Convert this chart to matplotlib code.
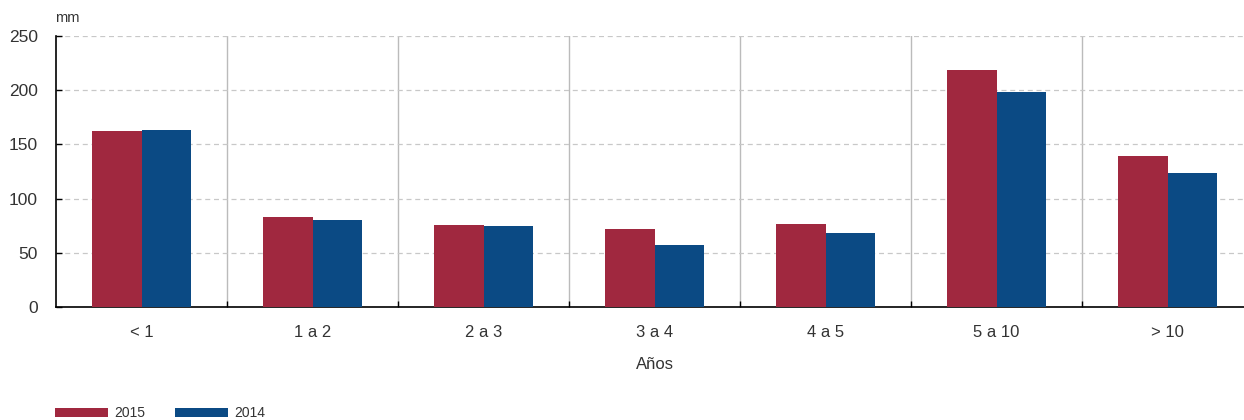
import numpy as np
import matplotlib
matplotlib.use("Agg")
import matplotlib.pyplot as plt

categorias = ["< 1", "1 a 2", "2 a 3", "3 a 4", "4 a 5", "5 a 10", "> 10"]
v2015 = [162.5, 83, 76, 72, 77, 218.5, 139.5]
v2014 = [163.5, 80, 74.5, 57, 68.5, 198.5, 123.5]
anios = ["2015", "2014"]
colores = ["#A0283F", "#0B4A84"]

plt.rcParams['font.family'] = ['Liberation Sans', 'DejaVu Sans']
gris = "#333333"

fig = plt.figure(figsize=(12.44, 4.2), dpi=100)
ax = fig.add_axes([56 / 1244, 1 - 307 / 420, (1253 - 56) / 1244, 271 / 420])

x = np.arange(len(categorias))
w = 0.287
ax.bar(x - w / 2, v2015, w, color=colores[0], label=anios[0], zorder=3)
ax.bar(x + w / 2, v2014, w, color=colores[1], label=anios[1], zorder=3)

ax.set_xlim(-0.5, len(categorias) - 0.5)
ax.set_ylim(0, 250)
ax.set_yticks(np.arange(0, 251, 50))
ax.yaxis.grid(True, linestyle=(0, (4, 3)), color="#c8c8c8", linewidth=0.9, zorder=0)
for b in np.arange(0.5, len(categorias) - 0.5, 1):
    ax.axvline(b, color="#bbbbbb", linewidth=1, zorder=1)

ax.set_xticks(x)
ax.set_xticklabels(categorias)
ax.tick_params(axis='x', length=0, pad=13, labelsize=12, labelcolor=gris)
ax.tick_params(axis='y', direction='in', length=4, width=1, pad=13, labelsize=12.5, labelcolor=gris)
ax.set_xticks(np.arange(0.5, len(categorias) - 0.5, 1), minor=True)
ax.tick_params(axis='x', which='minor', direction='in', length=4, width=1)

for s in ['top', 'right']:
    ax.spines[s].set_visible(False)
for s in ['left', 'bottom']:
    ax.spines[s].set_color("black")
    ax.spines[s].set_linewidth(1.2)

ax.set_xlabel("Años", fontsize=12, color=gris, labelpad=12)
fig.text(55 / 1244, 1 - 18 / 420, "mm", fontsize=10.5, color=gris, va='center', ha='left')

fig.legend(loc='center left', bbox_to_anchor=(55 / 1244, 1 - 413 / 420), ncol=2,
           frameon=False, borderpad=0, borderaxespad=0, handlelength=3.8,
           handleheight=0.6, columnspacing=2.1, handletextpad=0.5,
           fontsize=10, labelcolor=gris)

fig.savefig("out.png", dpi=100)
